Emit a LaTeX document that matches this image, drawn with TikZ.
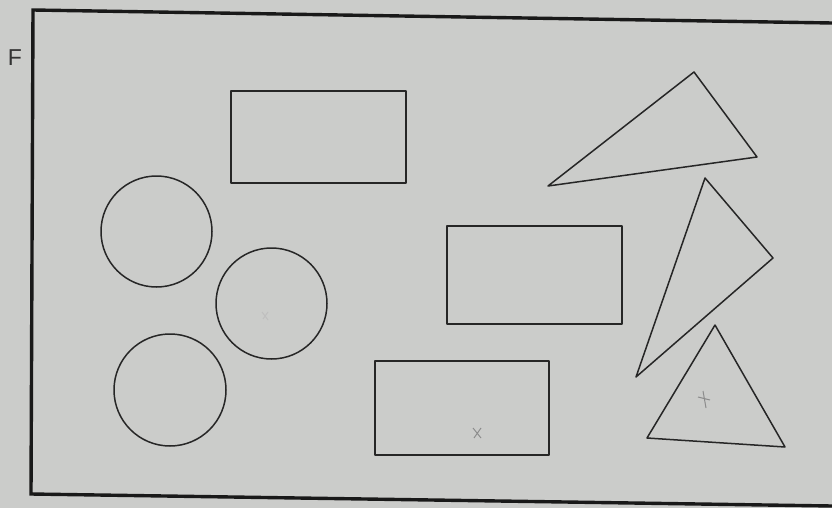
\documentclass[tikz,border=0pt]{standalone}
\usepackage{fontspec}
\setmainfont{Liberation Sans}
\begin{document}
\begin{tikzpicture}[x=1pt,y=-1pt,
  frameline/.style={line width=3.4pt,draw=black!90},
  outl/.style={line width=1.5pt,draw=black!85,line join=round},
  pencil/.style={line width=1pt,draw=black!45}]
\useasboundingbox[fill={rgb,255:red,203;green,204;blue,202}] (0,0) rectangle (832,508);
% frame
\coordinate (tl) at (33,10);
\coordinate (tr) at (832,23);
\coordinate (bl) at (31,494);
\coordinate (br) at (832,506);
\draw[frameline] (tr) -- (tl) -- (bl) -- (br);
\node[font=\fontsize{23}{23}\selectfont,text=black!80] (F) at (15,58) {F};
% rectangles
\draw[outl] (231,91) rectangle (406,183);
\draw[outl] (447,226) rectangle (622,324);
\draw[outl] (375,361) rectangle (549,455);
% circles
\draw[outl] (156.5,231.5) circle[radius=55.5];
\draw[outl] (271.5,303.5) circle[radius=55.5];
\draw[outl] (170,390) circle[radius=56];
% triangles
\draw[outl] (548,186) -- (694,72) -- (757,157) -- cycle;
\draw[outl] (636,377) -- (705,178) -- (773,258) -- cycle;
\draw[outl] (647,438) -- (715,325) -- (785,447) -- cycle;
% pencil marks
\draw[pencil,draw=black!25] (262,312) -- (268,320) (268,312) -- (263,319);
\draw[pencil] (473,428) -- (481,438) (481,428) -- (474,438);
\draw[pencil] (698,397) -- (710,400) (703,391) -- (706,408);
\end{tikzpicture}
\end{document}
